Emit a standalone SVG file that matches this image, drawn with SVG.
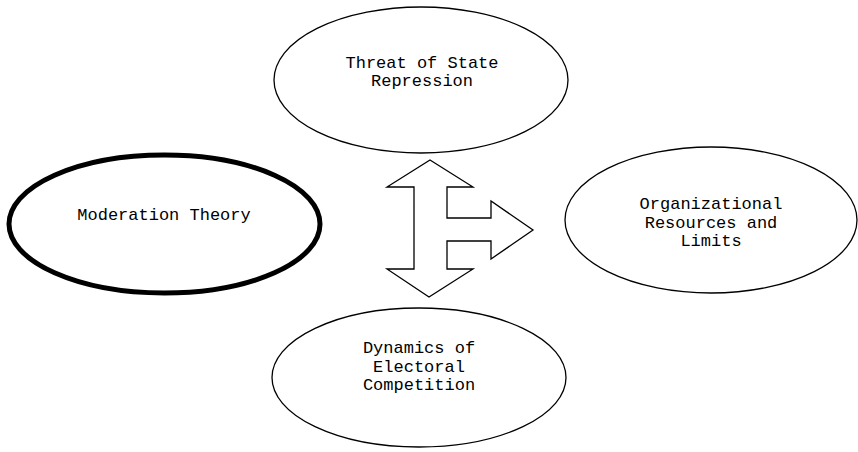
<svg xmlns="http://www.w3.org/2000/svg" width="858" height="452" viewBox="0 0 858 452">
<style>
.n{fill:#fff;stroke:#000;stroke-width:1.3}
.thick{fill:#fff;stroke:#000;stroke-width:5}
.t{font-family:"Liberation Mono","Courier New",monospace;font-size:17px;fill:#000;text-anchor:middle}
</style>
<rect width="858" height="452" fill="#fff"/>
<g id="threat">
<ellipse class="n" cx="421" cy="80" rx="147" ry="73"/>
<text class="t" x="422" y="68">Threat of State</text>
<text class="t" x="422" y="86">Repression</text>
</g>
<g id="moderation">
<ellipse class="thick" cx="164.5" cy="224" rx="155.5" ry="69"/>
<text class="t" x="164" y="220">Moderation Theory</text>
</g>
<g id="organizational">
<ellipse class="n" cx="711" cy="220" rx="146" ry="73"/>
<text class="t" x="711" y="209">Organizational</text>
<text class="t" x="711" y="228">Resources and</text>
<text class="t" x="711" y="246">Limits</text>
</g>
<g id="dynamics">
<ellipse class="n" cx="419" cy="377.5" rx="147" ry="69.5"/>
<text class="t" x="419" y="353">Dynamics of</text>
<text class="t" x="419" y="372">Electoral</text>
<text class="t" x="419" y="390">Competition</text>
</g>
<g id="connectors">
<path class="n" d="M430,160 L473,187 L447,187 L447,218 L491,218 L491,201 L533,230 L491,259 L491,241 L447,241 L447,269 L473,269 L429,297 L387,269 L414,269 L414,187 L387,187 Z"/>
</g>
</svg>
